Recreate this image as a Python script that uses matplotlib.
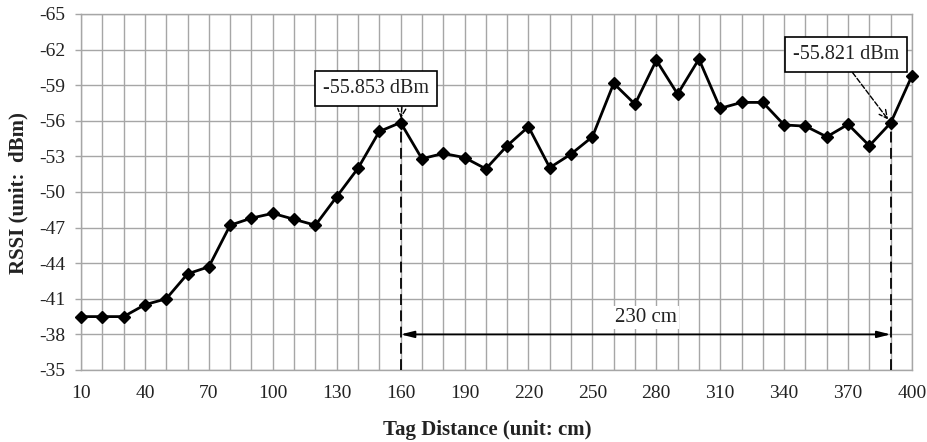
import numpy as np
import matplotlib
matplotlib.use('Agg')
import matplotlib.pyplot as plt

########## Data ##########
distance = list(range(10 , 401 , 10))   # cm
rssi = [-39.5 , -39.5 , -39.5 , -40.5 , -41.0 , -43.1 , -43.7 , -47.2 , -47.8 , -48.2 ,
        -47.7 , -47.2 , -49.6 , -52.0 , -55.1 , -55.853 , -52.8 , -53.25 , -52.9 , -51.95 ,
        -53.9 , -55.5 , -52.05 , -53.2 , -54.65 , -59.15 , -57.4 , -61.1 , -58.25 , -61.2 ,
        -57.05 , -57.55 , -57.55 , -55.65 , -55.55 , -54.65 , -55.7 , -53.9 , -55.821 , -59.8]

x_ticks = list(range(10 , 401 , 30))
y_ticks = list(range(-65 , -34 , 3))

mark_a , mark_b = 160 , 390    # two points with equal RSSI
span_y = -38                   # height of the distance arrow

########## Style ##########
plt.rcParams['font.family'] = ['Liberation Serif' , 'DejaVu Serif']
grid_c = '#a6a6a6'
txt_c = '#222222'

fig = plt.figure(figsize = [9.28 , 4.42] , dpi = 100)
ax = fig.add_axes([81 / 928 , 72 / 442 , 831 / 928 , 356 / 442])

ax.set_xlim(10 , 400)
ax.set_ylim(-35 , -65)
ax.set_xticks(x_ticks)
ax.set_xticks(distance , minor = True)
ax.set_yticks(y_ticks)
ax.set_xticklabels([str(v) for v in x_ticks] , fontsize = 14 , color = txt_c)
ax.set_yticklabels([str(v) for v in y_ticks] , fontsize = 14 , color = txt_c)
ax.tick_params(axis = 'x' , which = 'both' , length = 0 , pad = 11)
ax.tick_params(axis = 'y' , length = 4 , width = 1 , color = grid_c , pad = 7)
ax.grid(True , which = 'both' , axis = 'x' , color = grid_c , lw = 1)
ax.grid(True , which = 'major' , axis = 'y' , color = grid_c , lw = 1)
for sp in ax.spines.values():
    sp.set_color(grid_c)
    sp.set_linewidth(1)
ax.set_axisbelow(True)

########## Curve ##########
ax.plot(distance , rssi , color = 'k' , lw = 2 , marker = 'D' , ms = 6 , mfc = 'k' , mec = 'k' ,
        clip_on = False , zorder = 5)

########## Markers for 230 cm span ##########
val_a = rssi[distance.index(mark_a)]
val_b = rssi[distance.index(mark_b)]
ax.plot([mark_a , mark_a] , [-35 , val_a] , 'k--' , lw = 1.3 , dashes = (6 , 3) , zorder = 4)
ax.plot([mark_b , mark_b] , [-35 , val_b] , 'k--' , lw = 1.3 , dashes = (6 , 3) , zorder = 4)
ax.annotate('' , xy = (mark_b , span_y) , xytext = (mark_a , span_y) ,
            arrowprops = dict(arrowstyle = '<|-|>,head_length=0.8,head_width=0.2' ,
                              color = 'k' , lw = 1.3 , shrinkA = 0 , shrinkB = 0) , zorder = 6)
ax.text((mark_a + mark_b) / 2 , span_y - 1.4 , '%d cm' % (mark_b - mark_a) ,
        fontsize = 15 , ha = 'center' , va = 'center' , color = txt_c , zorder = 6 ,
        bbox = dict(boxstyle = 'square,pad=0.1' , fc = 'w' , ec = 'none'))

########## Value boxes ##########
box = dict(boxstyle = 'square,pad=0.4' , fc = 'w' , ec = 'k' , lw = 1.2)
ax.annotate('%.3f dBm' % val_a , xy = (mark_a , val_a) , xytext = (148.5 , -58.7) ,
            fontsize = 14.5 , ha = 'center' , va = 'center' , bbox = box , zorder = 7 , color = txt_c ,
            arrowprops = dict(arrowstyle = '->' , linestyle = '--' , color = 'k' , lw = 1 ,
                              relpos = (0.75 , 0) , shrinkA = 0 , shrinkB = 3))
ax.annotate('%.3f dBm' % val_b , xy = (mark_b , val_b) , xytext = (369 , -61.6) ,
            fontsize = 14.5 , ha = 'center' , va = 'center' , bbox = box , zorder = 7 , color = txt_c ,
            arrowprops = dict(arrowstyle = '->' , linestyle = '--' , color = 'k' , lw = 1 ,
                              relpos = (0.5 , 0) , shrinkA = 0 , shrinkB = 3))

########## Labels ##########
fig.text(487 / 928 , 1 - 430 / 442 , 'Tag Distance (unit: cm)' , fontsize = 15 ,
         fontweight = 'bold' , ha = 'center' , va = 'center' , color = txt_c)
fig.text(18 / 928 , 1 - 193 / 442 , 'RSSI (unit:  dBm)' , fontsize = 15 ,
         fontweight = 'bold' , ha = 'center' , va = 'center' , rotation = 90 , color = txt_c)

fig.savefig('out.png' , dpi = 100)
